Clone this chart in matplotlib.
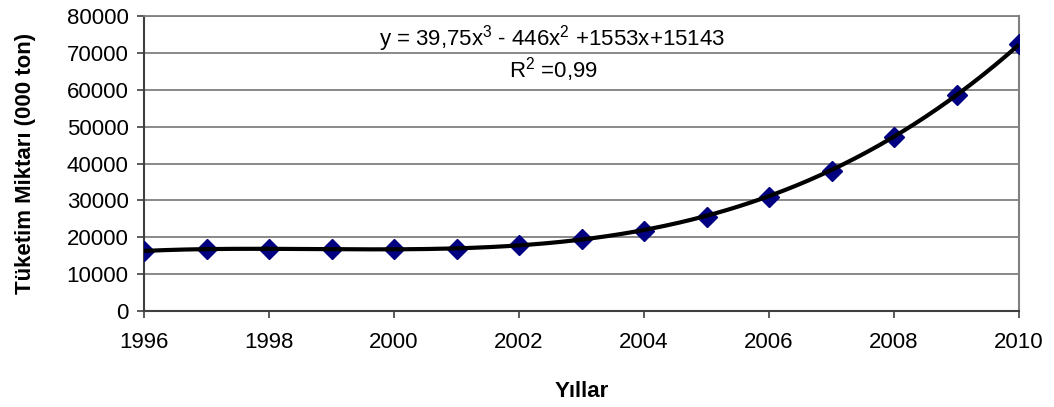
import numpy as np
import matplotlib
matplotlib.use("Agg")
import matplotlib.pyplot as plt

plt.rcParams['font.family'] = ['Liberation Sans', 'DejaVu Sans']
plt.rcParams['mathtext.fontset'] = 'custom'
plt.rcParams['mathtext.rm'] = 'Liberation Sans'

# Annual consumption (thousand tons)
years = [1996, 1997, 1998, 1999, 2000, 2001, 2002, 2003,
         2004, 2005, 2006, 2007, 2008, 2009, 2010]
consumption = [16300, 16800, 16800, 16800, 16800, 16800, 17900, 19500,
               21800, 25600, 31000, 38100, 47300, 58600, 72300]

# Cubic trend coefficients (x = 1 for the first year)
trend_coefs = [39.75, -446, 1553, 15143]
x_ticks = [1996, 1998, 2000, 2002, 2004, 2006, 2008, 2010]
y_ticks = [0, 10000, 20000, 30000, 40000, 50000, 60000, 70000, 80000]

fig = plt.figure(figsize=(10.54, 4.07), dpi=100)
ax = fig.add_axes([144 / 1054, 1 - 311 / 407, (1019 - 144) / 1054, (311 - 16) / 407])

ax.plot(years, consumption, linestyle='none', marker='D', markersize=10,
        color='#000080', zorder=3)

xs = np.linspace(1, len(years), 300)
ax.plot(xs + years[0] - 1, np.polyval(trend_coefs, xs), color='black',
        linewidth=3, zorder=4, solid_capstyle='butt')

ax.set_xlim(years[0], years[-1])
ax.set_ylim(0, 80000)
ax.set_xticks(x_ticks)
ax.set_yticks(y_ticks)
ax.tick_params(axis='both', labelsize=16, length=5, width=1.2,
               color='#404040', direction='out')
ax.tick_params(axis='x', pad=10)
ax.tick_params(axis='y', pad=6)

ax.grid(axis='y', color='#808080', linewidth=1.3)
ax.set_axisbelow(True)
ax.spines['left'].set_color('#404040')
ax.spines['left'].set_linewidth(1.5)
ax.spines['bottom'].set_color('#404040')
ax.spines['bottom'].set_linewidth(1.5)
ax.spines['right'].set_color('#808080')
ax.spines['right'].set_linewidth(1.5)
ax.spines['top'].set_color('#808080')
ax.spines['top'].set_linewidth(1.3)

ax.set_xlabel('Yıllar', fontsize=16, fontweight='bold', labelpad=20)
ax.set_ylabel('Tüketim Miktarı (000 ton)', fontsize=16, fontweight='bold', labelpad=22)

ax.text(2002.53, 74000, 'y = 39,75x$^3$ - 446x$^2$ +1553x+15143',
        fontsize=16, ha='center', va='center')
ax.text(2002.55, 65400, 'R$^2$ =0,99', fontsize=16, ha='center', va='center')

fig.savefig('out.png', dpi=100)
